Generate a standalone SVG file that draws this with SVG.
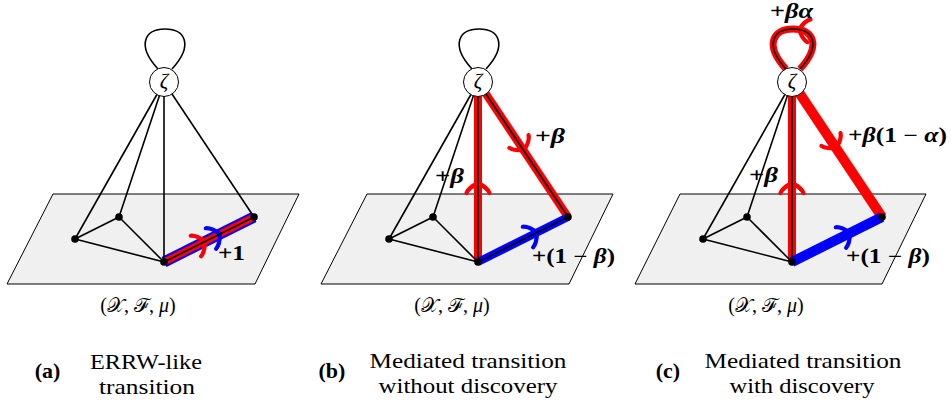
<svg xmlns="http://www.w3.org/2000/svg" xmlns:xlink="http://www.w3.org/1999/xlink" width="951" height="407" viewBox="0 0 951 407">
<style>
.plane{fill:#f0f0f0;stroke:#000;stroke-width:1}
.e{stroke:#000;stroke-width:1.6;fill:none}
.dot{fill:#000}
.zc{fill:#fff;stroke:#000;stroke-width:1}
.zt{font-style:italic;font-size:21px;text-anchor:middle}
.red{stroke:#ff0000;fill:none}
.blue{stroke:#0000ff;fill:none}
.ah{fill:none;stroke-linecap:round;stroke-linejoin:round;stroke-width:4.2}
.lbl{font-weight:bold;font-size:20px}
.gr{font-style:italic}
.cap{font-size:22px;text-anchor:middle}
.tag{font-size:22px;font-weight:bold;text-anchor:middle}
.sp{font-size:20px;text-anchor:middle}
</style>
<defs>
<path id="ah" d="M -9,-11.5 C -5,-10 -1.5,-5 1,0 C -1.5,5 -5,10 -9,11.5"/>
<path id="loop" d="M 158,69 C 136,45 145,29 165,29 C 185,29 194,45 172,69"/>
</defs>
<g font-family="Liberation Serif, Tinos, Times New Roman, DejaVu Serif, serif">
<!-- ===== Panel (a) ===== -->
<g id="panel-a">
  <g id="a-plane"><polygon class="plane" points="53,194 299,194 255,284 7,284"/></g>
  <g id="a-connectors">
    <line class="blue" x1="164" y1="262" x2="254" y2="217" stroke-width="11"/>
    <line class="red" x1="164" y1="262" x2="254" y2="217" stroke-width="7"/>
    <use href="#ah" class="ah" stroke="#0000ff" transform="translate(219,234.5) rotate(-26.57)"/>
    <use href="#ah" class="ah" stroke="#ff0000" transform="translate(204,242) rotate(-26.57)"/>
    <use href="#loop" class="e"/>
    <line class="e" x1="164" y1="82" x2="75" y2="239"/>
    <line class="e" x1="164" y1="82" x2="119" y2="217"/>
    <line class="e" x1="164" y1="82" x2="164" y2="262"/>
    <line class="e" x1="164" y1="82" x2="254" y2="217"/>
    <line class="e" x1="75" y1="239" x2="119" y2="217"/>
    <line class="e" x1="119" y1="217" x2="164" y2="262"/>
    <line class="e" x1="75" y1="239" x2="164" y2="262"/>
    <line class="e" x1="164" y1="262" x2="254" y2="217"/>
  </g>
  <g id="a-v1"><circle class="dot" cx="75" cy="239" r="3.8"/></g>
  <g id="a-v2"><circle class="dot" cx="119" cy="217" r="3.8"/></g>
  <g id="a-v3"><circle class="dot" cx="164" cy="262" r="3.8"/></g>
  <g id="a-v4"><circle class="dot" cx="254" cy="217" r="3.8"/></g>
  <g id="a-zeta"><circle class="zc" cx="164" cy="82" r="14.5"/><text class="zt" x="164" y="88">ζ</text></g>
  <text class="lbl" x="218" y="260" textLength="27" lengthAdjust="spacingAndGlyphs">+1</text>
  <text class="sp" x="138" y="312">(𝒳, ℱ, <tspan font-style="italic">μ</tspan>)</text>
  <text class="tag" x="47.5" y="378">(a)</text>
  <text class="cap" x="146" y="369" textLength="112" lengthAdjust="spacingAndGlyphs">ERRW-like</text>
  <text class="cap" x="147" y="394" textLength="96" lengthAdjust="spacingAndGlyphs">transition</text>
</g>

<!-- ===== Panel (b) ===== -->
<g id="panel-b" transform="translate(314,0)">
  <g id="b-plane"><polygon class="plane" points="53,194 299,194 255,284 7,284"/></g>
  <g id="b-connectors">
    <line class="red" x1="164" y1="82" x2="164" y2="262" stroke-width="8"/>
    <line class="red" x1="164" y1="82" x2="254" y2="217" stroke-width="8"/>
    <line class="blue" x1="164" y1="262" x2="254" y2="217" stroke-width="8"/>
    <use href="#ah" class="ah" stroke="#ff0000" transform="translate(164,184) rotate(-90)"/>
    <use href="#ah" class="ah" stroke="#ff0000" transform="translate(210,149) rotate(56.3)"/>
    <use href="#ah" class="ah" stroke="#0000ff" transform="translate(222,233) rotate(-26.57)"/>
    <use href="#loop" class="e"/>
    <line class="e" x1="164" y1="82" x2="75" y2="239"/>
    <line class="e" x1="164" y1="82" x2="119" y2="217"/>
    <line class="e" x1="164" y1="82" x2="164" y2="262"/>
    <line class="e" x1="164" y1="82" x2="254" y2="217"/>
    <line class="e" x1="75" y1="239" x2="119" y2="217"/>
    <line class="e" x1="119" y1="217" x2="164" y2="262"/>
    <line class="e" x1="75" y1="239" x2="164" y2="262"/>
    <line class="e" x1="164" y1="262" x2="254" y2="217"/>
  </g>
  <g id="b-v1"><circle class="dot" cx="75" cy="239" r="3.8"/></g>
  <g id="b-v2"><circle class="dot" cx="119" cy="217" r="3.8"/></g>
  <g id="b-v3"><circle class="dot" cx="164" cy="262" r="3.8"/></g>
  <g id="b-v4"><circle class="dot" cx="254" cy="217" r="3.8"/></g>
  <g id="b-zeta"><circle class="zc" cx="164" cy="82" r="14.5"/><text class="zt" x="164" y="88">ζ</text></g>
  <text class="lbl" x="221" y="143" textLength="30" lengthAdjust="spacingAndGlyphs">+<tspan class="gr">β</tspan></text>
  <text class="lbl" x="121" y="183" textLength="29" lengthAdjust="spacingAndGlyphs">+<tspan class="gr">β</tspan></text>
  <text class="lbl" x="218" y="263" textLength="83" lengthAdjust="spacingAndGlyphs">+(1 − <tspan class="gr">β</tspan>)</text>
  <text class="sp" x="138" y="312">(𝒳, ℱ, <tspan font-style="italic">μ</tspan>)</text>
  <text class="tag" x="18" y="378">(b)</text>
  <text class="cap" x="154" y="368" textLength="197" lengthAdjust="spacingAndGlyphs">Mediated transition</text>
  <text class="cap" x="154" y="393" textLength="179" lengthAdjust="spacingAndGlyphs">without discovery</text>
</g>

<!-- ===== Panel (c) ===== -->
<g id="panel-c" transform="translate(628,0)">
  <g id="c-plane"><polygon class="plane" points="52,194 298,194 254,284 7,284"/></g>
  <g id="c-connectors">
    <use href="#loop" class="red" stroke-width="7"/>
    <line class="red" x1="164" y1="82" x2="164" y2="262" stroke-width="8"/>
    <line class="red" x1="164" y1="82" x2="254" y2="217" stroke-width="10"/>
    <line class="blue" x1="164" y1="262" x2="254" y2="217" stroke-width="10"/>
    <use href="#ah" class="ah" stroke="#ff0000" transform="translate(172,29.5) rotate(188)"/>
    <use href="#ah" class="ah" stroke="#ff0000" transform="translate(164,184) rotate(-90)"/>
    <use href="#ah" class="ah" stroke="#ff0000" transform="translate(208,147) rotate(56.3)"/>
    <use href="#ah" class="ah" stroke="#0000ff" transform="translate(221,233.5) rotate(-26.57)"/>
    <use href="#loop" class="e"/>
    <line class="e" x1="164" y1="82" x2="75" y2="239"/>
    <line class="e" x1="164" y1="82" x2="119" y2="217"/>
    <line class="e" x1="164" y1="82" x2="164" y2="262"/>
    <line class="e" x1="75" y1="239" x2="119" y2="217"/>
    <line class="e" x1="119" y1="217" x2="164" y2="262"/>
    <line class="e" x1="75" y1="239" x2="164" y2="262"/>
  </g>
  <g id="c-v1"><circle class="dot" cx="75" cy="239" r="3.8"/></g>
  <g id="c-v2"><circle class="dot" cx="119" cy="217" r="3.8"/></g>
  <g id="c-v3"><circle class="dot" cx="164" cy="262" r="3.8"/></g>
  <g id="c-v4"><circle class="dot" cx="254" cy="217" r="3.8"/></g>
  <g id="c-zeta"><circle class="zc" cx="164" cy="82" r="14.5"/><text class="zt" x="164" y="88">ζ</text></g>
  <text class="lbl" x="142" y="18" font-size="18" textLength="43" lengthAdjust="spacingAndGlyphs">+<tspan class="gr">βα</tspan></text>
  <text class="lbl" x="121" y="182" textLength="29" lengthAdjust="spacingAndGlyphs">+<tspan class="gr">β</tspan></text>
  <text class="lbl" x="220" y="142" textLength="99" lengthAdjust="spacingAndGlyphs">+<tspan class="gr">β</tspan>(1 − <tspan class="gr">α</tspan>)</text>
  <text class="lbl" x="218" y="263" textLength="84" lengthAdjust="spacingAndGlyphs">+(1 − <tspan class="gr">β</tspan>)</text>
  <text class="sp" x="138" y="312">(𝒳, ℱ, <tspan font-style="italic">μ</tspan>)</text>
  <text class="tag" x="40" y="378">(c)</text>
  <text class="cap" x="175" y="368" textLength="197" lengthAdjust="spacingAndGlyphs">Mediated transition</text>
  <text class="cap" x="174" y="393" textLength="145" lengthAdjust="spacingAndGlyphs">with discovery</text>
</g>
</g>
</svg>
